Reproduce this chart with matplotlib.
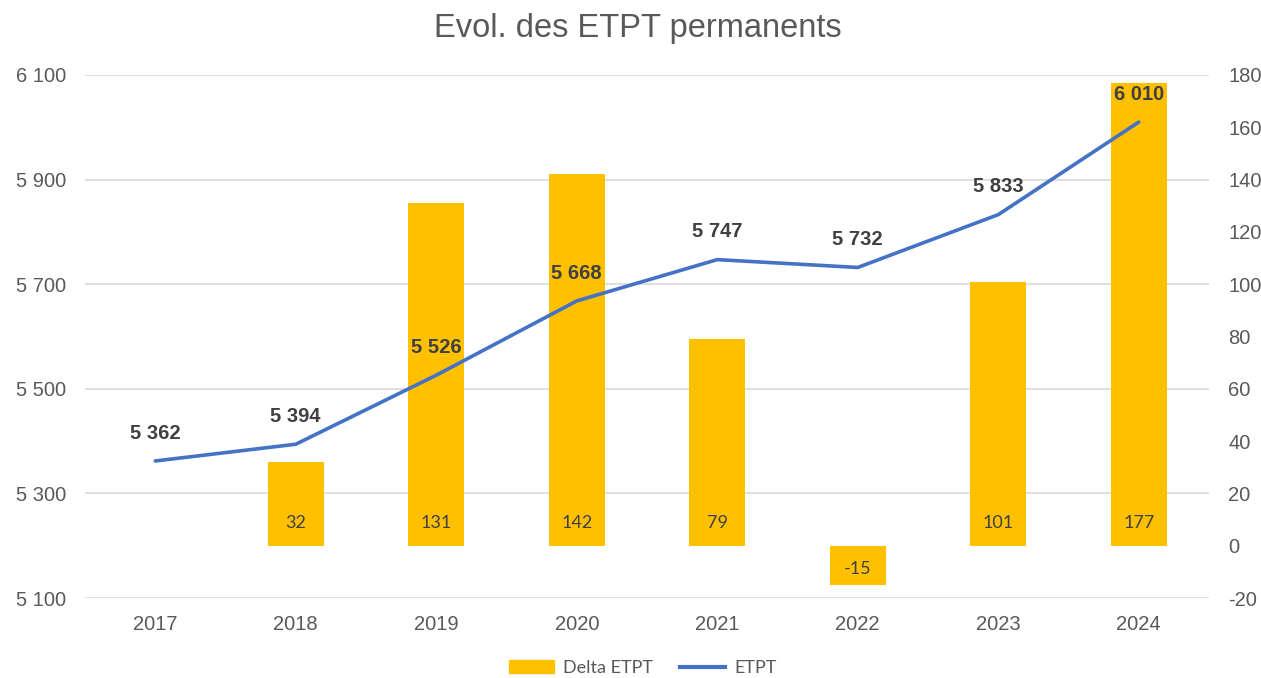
import numpy as np
import matplotlib.pyplot as plt
from matplotlib.lines import Line2D
from matplotlib.patches import Patch

# data
years = ['2017', '2018', '2019', '2020', '2021', '2022', '2023', '2024']
etpt = [5362, 5394, 5526, 5668, 5747, 5732, 5833, 6010]
delta_years = ['2018', '2019', '2020', '2021', '2022', '2023', '2024']
delta_etpt = [32, 131, 142, 79, -15, 101, 177]

left_ticks = [5100, 5300, 5500, 5700, 5900, 6100]
right_ticks = list(range(-20, 181, 20))

bar_color = '#FFC000'
line_color = '#4472C4'
grey_txt = '#595959'
dark_txt = '#404040'

plt.rcParams['font.family'] = ['Liberation Sans', 'DejaVu Sans']
plt.rcParams['axes.unicode_minus'] = False


def fmt_thousands(v):
    return f'{v:,}'.replace(',', ' ')


fig = plt.figure(figsize=(12.61, 6.78), dpi=100)
ax_bar = fig.add_axes([85/1261, 1-598/678, (1209-85)/1261, (598-75)/678])
ax_line = ax_bar.twinx()

# bars (bottom axis, ticks on the right)
x = np.arange(len(years))
xb = [years.index(y) for y in delta_years]
ax_bar.set_axisbelow(True)
ax_bar.bar(xb, delta_etpt, width=0.4, color=bar_color, zorder=2)
ax_bar.set_ylim(-20, 180)
ax_bar.set_yticks(right_ticks)
ax_bar.yaxis.tick_right()
# gridlines follow the left axis ticks (every 40 on the right scale)
ax_bar.yaxis.remove_overlapping_locs = False
ax_bar.set_yticks(np.arange(-20, 181, 40), minor=True)
ax_bar.tick_params(axis='y', which='both', length=0, labelsize=14.5,
                   labelcolor=grey_txt, pad=14)
ax_bar.yaxis.grid(True, which='minor', color='#D9D9D9', lw=1.2)
for xi, v in zip(xb, delta_etpt):
    ax_bar.annotate(str(v), (xi, 0), xytext=(0, 16.5 if v > 0 else -16.5),
                    textcoords='offset points', ha='center', va='center',
                    fontsize=13, color=dark_txt, family='Lato')

# line (top axis, ticks on the left)
ax_line.plot(x, etpt, color=line_color, lw=2.6, solid_capstyle='round', zorder=3)
ax_line.set_ylim(5100, 6100)
ax_line.set_yticks(left_ticks)
ax_line.set_yticklabels([fmt_thousands(t) for t in left_ticks])
ax_line.yaxis.tick_left()
ax_line.tick_params(axis='y', length=0, labelsize=14.5, labelcolor=grey_txt, pad=13.5)
for xi, v in zip(x, etpt):
    ax_line.annotate(fmt_thousands(v), (xi, v), xytext=(0, 20),
                     textcoords='offset points', ha='center', va='center',
                     fontsize=14.5, fontweight='bold', color=dark_txt)

ax_bar.set_xlim(-0.5, len(years) - 0.5)
ax_bar.set_xticks(x)
ax_bar.set_xticklabels(years)
ax_bar.tick_params(axis='x', length=0, labelsize=14.5, labelcolor=grey_txt, pad=12)

for a in (ax_bar, ax_line):
    for s in a.spines.values():
        s.set_visible(False)

fig.suptitle('Evol. des ETPT permanents', x=638/1261, y=1-28/678, va='center',
             fontsize=23.5, color=grey_txt)

handles = [Patch(color=bar_color, label='Delta ETPT'),
           Line2D([], [], color=line_color, lw=3, label='ETPT')]
fig.legend(handles=handles, loc='center', bbox_to_anchor=(643/1261, 1-668/678),
           ncol=2, frameon=False, handlelength=2.5, handleheight=0.7,
           columnspacing=1.5, handletextpad=0.5,
           prop={'family': 'Lato', 'size': 13})
for t in fig.legends[0].get_texts():
    t.set_color(grey_txt)

fig.savefig('out.png', dpi=100)
